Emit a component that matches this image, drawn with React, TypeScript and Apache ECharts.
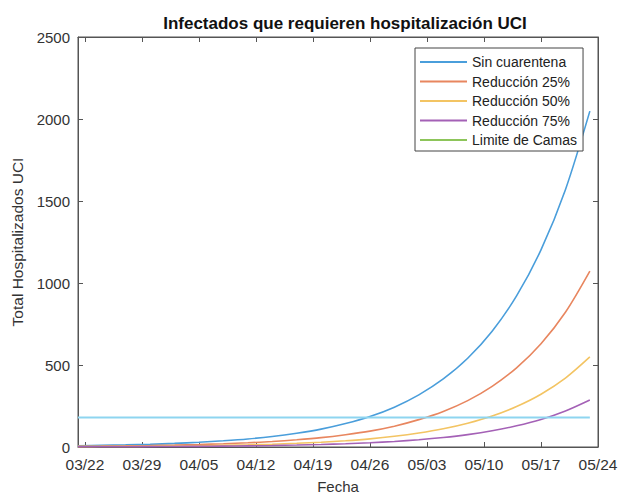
import React, { useEffect, useRef } from "react";
import * as echarts from "echarts";

// Days since 03/22
const days = [-0.85, 2, 5, 8, 11, 14, 17, 20, 23, 26, 29, 32, 35, 38, 41, 44, 47, 50, 53, 56, 59, 62];
const sinCuarentena = [7.7, 10, 13, 17, 22, 29, 38, 49, 64, 84, 109, 143, 186, 243, 318, 415, 541, 706, 921, 1202, 1569, 2048];
const reduccion25 = [4.0, 5.2, 6.8, 8.9, 11.5, 15.2, 19.9, 25.7, 33.5, 44, 57, 75, 97, 127, 167, 217, 283, 370, 483, 630, 822, 1073];
const reduccion50 = [2.1, 2.7, 3.5, 4.6, 5.9, 7.8, 10.2, 13.1, 17.2, 22.5, 29.2, 38.3, 49.8, 65.1, 85.2, 111, 145, 189, 247, 322, 420, 549];
const reduccion75 = [1.1, 1.4, 1.8, 2.4, 3.1, 4.1, 5.3, 6.9, 9.0, 11.8, 15.3, 20.0, 26.0, 34.0, 44.5, 58.1, 75.7, 98.8, 129, 168, 220, 287];
const limiteCamas = 180;
const limiteDays = [-0.85, 62];

const xTickValues = [0, 7, 14, 21, 28, 35, 42, 49, 56, 63];
const xTickLabels = ["03/22", "03/29", "04/05", "04/12", "04/19", "04/26", "05/03", "05/10", "05/17", "05/24"];

const FONT = "'Liberation Sans', Arial, sans-serif";

export default function App() {
  const ref = useRef<HTMLDivElement>(null);
  useEffect(() => {
    document.body.style.margin = "0";
    const chart = echarts.init(ref.current!, undefined, { renderer: "svg" });
    const toPts = (vals: number[]) => days.map((d, i) => [d, vals[i]]);
    const axisColor = "#555";
    const labelColor = "#333";
    const xCommon = {
      type: "value" as const,
      min: -0.85,
      max: 63,
      splitLine: { show: false },
      axisLine: { show: true, onZero: false, lineStyle: { color: axisColor, width: 1 } },
    };
    const yCommon = {
      type: "value" as const,
      min: 0,
      max: 2500,
      interval: 500,
      splitLine: { show: false },
      axisLine: { show: true, onZero: false, lineStyle: { color: axisColor, width: 1 } },
    };
    chart.setOption({
      animation: false,
      backgroundColor: "#fff",
      title: {
        text: "Infectados que requieren hospitalización UCI",
        left: 340,
        textAlign: "center",
        top: 10,
        textStyle: { fontFamily: FONT, fontSize: 17, fontWeight: "bold", color: "#111" },
      },
      grid: {
        left: 78,
        right: 20,
        top: 37,
        bottom: 47,
        show: true,
        borderColor: axisColor,
        borderWidth: 1,
        backgroundColor: "#fff",
        containLabel: false,
        outerBoundsMode: "none",
      },
      legend: {
        orient: "vertical",
        left: 415,
        top: 48,
        icon: "rect",
        itemWidth: 47,
        itemHeight: 2,
        itemGap: 5.5,
        padding: [7, 6, 4, 5],
        borderColor: "#444",
        borderWidth: 1,
        backgroundColor: "#fff",
        textStyle: { fontFamily: FONT, fontSize: 14, color: "#222" },
        data: [
          { name: "Sin cuarentena" },
          { name: "Reducción 25%" },
          { name: "Reducción 50%" },
          { name: "Reducción 75%" },
          { name: "Limite de Camas", itemStyle: { color: "#8dc55a" } },
        ],
      },
      xAxis: [
        {
          ...xCommon,
          position: "bottom",
          name: "Fecha",
          nameLocation: "middle",
          nameGap: 32,
          nameTextStyle: { fontFamily: FONT, fontSize: 15, color: labelColor },
          axisTick: { show: true, inside: true, length: 5, customValues: xTickValues, lineStyle: { color: axisColor } },
          axisLabel: {
            show: true,
            customValues: xTickValues,
            margin: 9,
            fontFamily: FONT,
            fontSize: 15.5,
            color: labelColor,
            formatter: (v: number) => xTickLabels[Math.round(v / 7)] ?? "",
          },
        },
        {
          ...xCommon,
          position: "top",
          axisTick: { show: true, inside: true, length: 5, customValues: xTickValues, lineStyle: { color: axisColor } },
          axisLabel: { show: false },
        },
      ],
      yAxis: [
        {
          ...yCommon,
          position: "left",
          name: "Total Hospitalizados UCI",
          nameLocation: "middle",
          nameGap: 49,
          nameTextStyle: { fontFamily: FONT, fontSize: 15.5, color: labelColor },
          axisTick: { show: true, inside: true, length: 5, lineStyle: { color: axisColor } },
          axisLabel: { margin: 8, fontFamily: FONT, fontSize: 15, color: labelColor, formatter: (v: number) => String(v) },
        },
        {
          ...yCommon,
          position: "right",
          axisTick: { show: true, inside: true, length: 5, lineStyle: { color: axisColor } },
          axisLabel: { show: false },
        },
      ],
      series: [
        {
          name: "Sin cuarentena",
          type: "line",
          data: toPts(sinCuarentena),
          smooth: 0.3,
          showSymbol: false,
          color: "#4a9edb",
          lineStyle: { width: 1.6 },
        },
        {
          name: "Reducción 25%",
          type: "line",
          data: toPts(reduccion25),
          smooth: 0.3,
          showSymbol: false,
          color: "#e8865f",
          lineStyle: { width: 1.6 },
        },
        {
          name: "Reducción 50%",
          type: "line",
          data: toPts(reduccion50),
          smooth: 0.3,
          showSymbol: false,
          color: "#f3c463",
          lineStyle: { width: 1.6 },
        },
        {
          name: "Reducción 75%",
          type: "line",
          data: toPts(reduccion75),
          smooth: 0.3,
          showSymbol: false,
          color: "#a461b6",
          lineStyle: { width: 1.6 },
        },
        {
          name: "Limite de Camas",
          type: "line",
          data: limiteDays.map((d) => [d, limiteCamas]),
          showSymbol: false,
          color: "#8ed5f0",
          lineStyle: { width: 2.2 },
        },
      ],
    });
    return () => chart.dispose();
  }, []);
  return <div ref={ref} style={{ width: 618, height: 494 }} />;
}
